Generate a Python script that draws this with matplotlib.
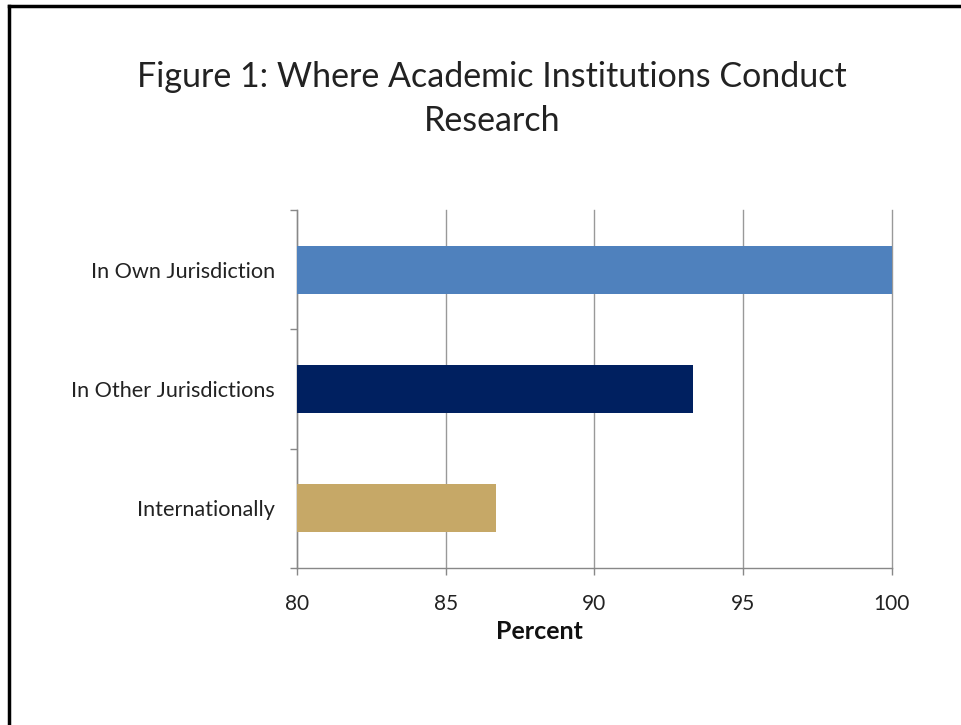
import matplotlib.pyplot as plt
from matplotlib.lines import Line2D

categories = ["In Own Jurisdiction", "In Other Jurisdictions", "Internationally"]
values = [100, 93.3, 86.7]
colors = ["#4F81BD", "#002060", "#C6A867"]
xticks = [80, 85, 90, 95, 100]

plt.rcParams['font.family'] = ['Lato', 'DejaVu Sans']

fig = plt.figure(figsize=(9.61, 7.25), dpi=100)
ax = fig.add_axes([0.309, 0.2166, 0.619, 0.4937])

ypos = list(range(len(categories)))
ax.barh(ypos, values, height=0.4, color=colors, zorder=3)
ax.set_xlim(80, 100)
ax.set_ylim(2.5, -0.5)
ax.set_xticks(xticks)
ax.set_xticklabels([str(t) for t in xticks], fontsize=15, color='#222222')
ax.set_yticks(ypos)
ax.set_yticklabels(categories, fontsize=15.6, color='#222222')
ax.tick_params(axis='y', length=0, pad=16)
ax.set_yticks([-0.5, 0.5, 1.5, 2.5], minor=True)
ax.tick_params(axis='y', which='minor', length=5, color='#888888', width=1)
ax.tick_params(axis='x', length=5, color='#888888', width=1, pad=14)
ax.grid(axis='x', color='#999999', linewidth=1, zorder=0)
# keep the 100 gridline from being clipped at the edge
for gl in ax.get_xgridlines():
    gl.set_clip_on(False)

for s in ['top', 'right']:
    ax.spines[s].set_visible(False)
for s in ['left', 'bottom']:
    ax.spines[s].set_color('#888888')
    ax.spines[s].set_linewidth(1)

ax.set_xlabel("Percent", fontsize=18, fontweight='bold', color='#111111')
ax.xaxis.set_label_coords(0.408, -0.145)

fig.text(0.512, 0.863, "Figure 1: Where Academic Institutions Conduct\nResearch",
         ha='center', va='center', fontsize=24.5, linespacing=1.45, color='#222222')

# page border (top and left only visible)
fig.add_artist(Line2D([0.009, 1], [0.992, 0.992], color='black', linewidth=2.5,
                      transform=fig.transFigure))
fig.add_artist(Line2D([0.009, 0.009], [0, 0.992], color='black', linewidth=2.5,
                      transform=fig.transFigure))

fig.savefig("out.png", dpi=100)
